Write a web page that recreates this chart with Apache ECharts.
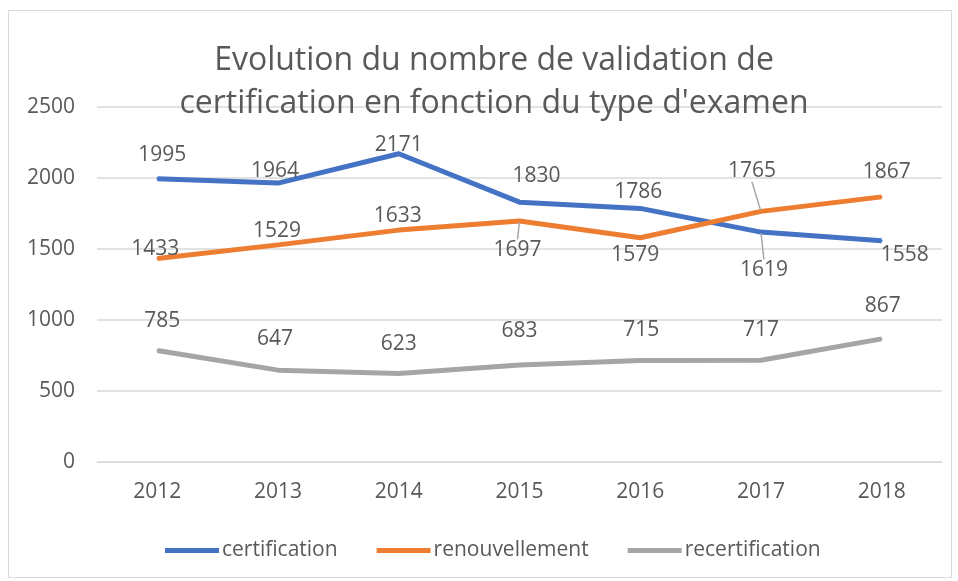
<!DOCTYPE html>
<html>
<head>
<meta charset="utf-8">
<script src="https://cdn.jsdelivr.net/npm/echarts@6/dist/echarts.min.js"></script>
<style>
  html, body { margin: 0; padding: 0; background: #fff; }
  #chart { width: 958px; height: 581px; }
</style>
</head>
<body>
<div id="chart"></div>
<script>
const years = ['2012', '2013', '2014', '2015', '2016', '2017', '2018']
const certification = [1995, 1964, 2171, 1830, 1786, 1619, 1558]
const renouvellement = [1433, 1529, 1633, 1697, 1579, 1765, 1867]
const recertification = [785, 647, 623, 683, 715, 717, 867]

// label offsets (dx, dy) from the point, Excel-like placement
const certOffsets = [[5, -24], [-3, -12], [0, -9], [17, -26], [-2, -16], [3, 38], [23, 14]]
const renoOffsets = [[-2, -9], [-1, -14], [-1, -14], [-2, 29], [-5, 17], [-9, -40], [5, -25]]
const recertOffsets = [[5, -30], [-3, -31], [0, -30], [0, -34], [1, -30], [0, -30], [1, -33]]
const certLeader = [5]
const renoLeader = [3, 5]

const textColor = '#595959'
const font = 'Open Sans'

const chart = echarts.init(document.getElementById('chart'))

function makeSeries(name, values, color, offsets, leaders) {
  return {
    name: name,
    type: 'line',
    data: values.map(function(v, i) {
      const item = { value: v }
      if (leaders.indexOf(i) >= 0) {
        item.labelLine = { show: true, lineStyle: { color: '#a6a6a6', width: 1.5 } }
      }
      return item
    }),
    symbol: 'circle',
    symbolSize: 2,
    itemStyle: { color: color },
    lineStyle: { color: color, width: 5 },
    label: {
      show: true,
      position: 'inside',
      color: textColor,
      fontFamily: font,
      fontSize: 21
    },
    labelLayout: function(p) {
      const o = offsets[p.dataIndex]
      return { dx: o[0], dy: o[1] }
    },
    emphasis: { disabled: true }
  }
}

const option = {
  backgroundColor: '#fff',
  animation: false,
  textStyle: { fontFamily: font },
  title: {
    text: 'Evolution du nombre de validation de\ncertification en fonction du type d\'examen',
    left: 489,
    top: 34,
    textAlign: 'center',
    textStyle: {
      color: textColor,
      fontFamily: font,
      fontSize: 32,
      fontWeight: 'normal',
      lineHeight: 43
    }
  },
  graphic: [
    {
      type: 'rect',
      shape: { x: 8.5, y: 10.5, width: 943, height: 567 },
      style: { fill: 'none', stroke: '#d9d9d9', lineWidth: 1 },
      z: -10
    }
  ],
  grid: {
    left: 97,
    right: 16,
    top: 107,
    bottom: 119
  },
  legend: {
    bottom: 15,
    left: 160,
    icon: 'rect',
    itemWidth: 54,
    itemHeight: 5,
    itemGap: 39,
    textStyle: { color: textColor, fontFamily: font, fontSize: 21, padding: [0, 0, 0, -2] },
    data: ['certification', 'renouvellement', 'recertification']
  },
  xAxis: {
    type: 'category',
    data: years,
    axisLine: { lineStyle: { color: '#d9d9d9', width: 1 } },
    axisTick: { show: false },
    axisLabel: { color: textColor, fontFamily: font, fontSize: 21, margin: 20 }
  },
  yAxis: {
    type: 'value',
    min: 0,
    max: 2500,
    interval: 500,
    axisLine: { show: false },
    axisTick: { show: false },
    splitLine: { lineStyle: { color: '#d9d9d9', width: 1.5 } },
    axisLabel: {
      color: textColor,
      fontFamily: font,
      fontSize: 21,
      margin: 22,
      formatter: function(v) { return String(v) }
    }
  },
  series: [
    makeSeries('certification', certification, '#4472c4', certOffsets, certLeader),
    makeSeries('renouvellement', renouvellement, '#ed7d31', renoOffsets, renoLeader),
    makeSeries('recertification', recertification, '#a5a5a5', recertOffsets, [])
  ]
}

chart.setOption(option)
</script>
</body>
</html>
